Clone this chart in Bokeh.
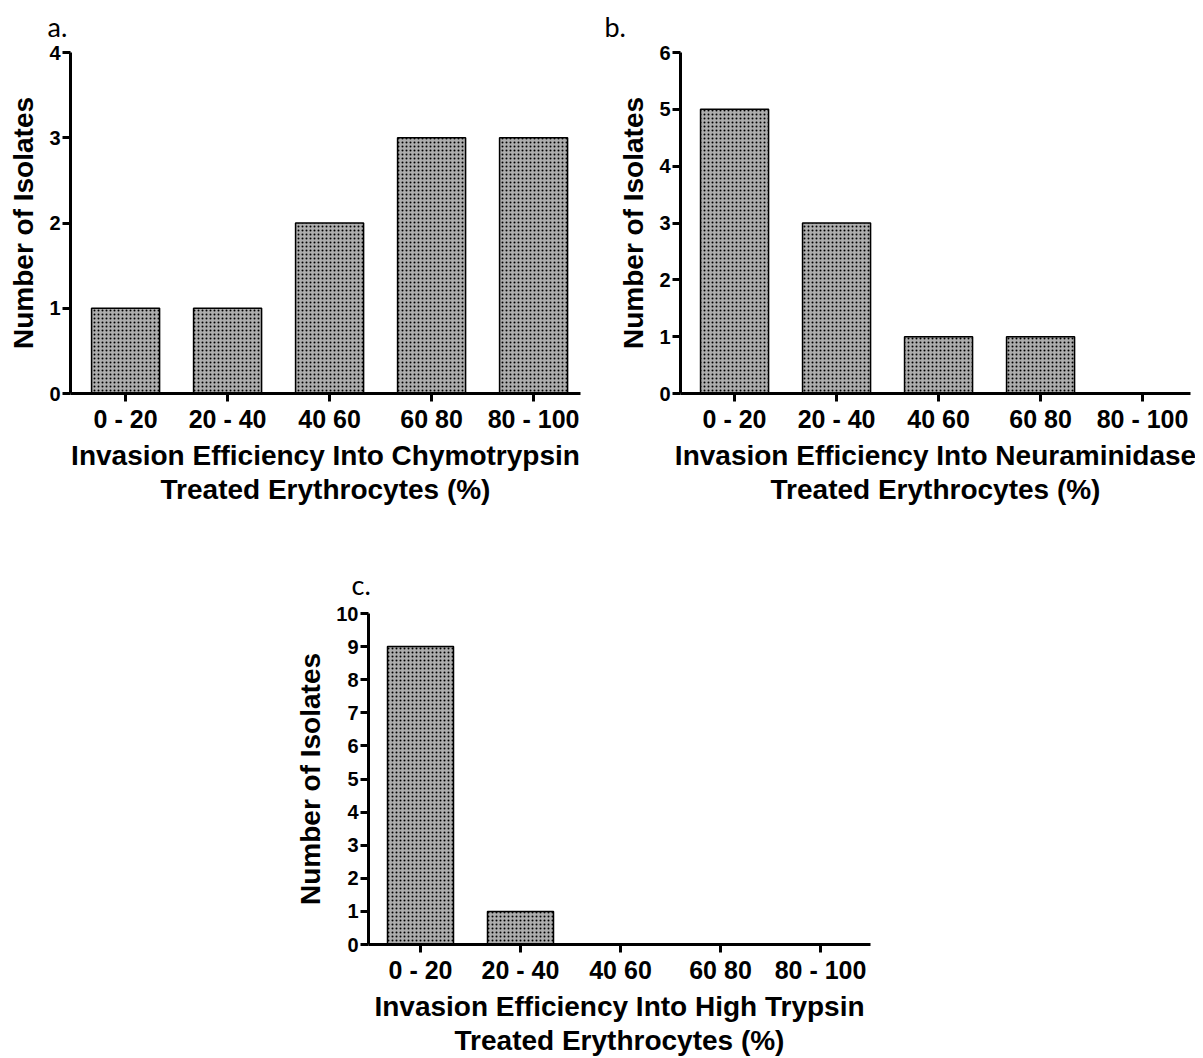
from bokeh.plotting import figure
from bokeh.layouts import column, row
from bokeh.models import FixedTicker, Spacer, ColumnDataSource
from bokeh.embed import file_html
from bokeh.resources import INLINE

# ---- data ----
categories = ["0 - 20", "20 - 40", "40 60", "60 80", "80 - 100"]
chymotrypsin_counts = [1, 1, 2, 3, 3]
neuraminidase_counts = [5, 3, 1, 1, 0]
high_trypsin_counts = [9, 1, 0, 0, 0]

panel_letters = ["a.", "b.", "c."]
y_label = "Number of Isolates"
x_label_a = "Invasion Efficiency Into Chymotrypsin\nTreated Erythrocytes (%)"
x_label_b = "Invasion Efficiency Into Neuraminidase\nTreated Erythrocytes (%)"
x_label_c = "Invasion Efficiency Into High Trypsin\nTreated Erythrocytes (%)"

FONT = "Liberation Sans"


def make_panel(letter, counts, ymax, xlabel, width, height, b_left, b_right,
               b_top, b_bottom, x_start, x_end, bar_w, t_offset, t_standoff):
    xs = list(range(len(categories)))
    src = ColumnDataSource(dict(x=xs, top=counts))
    p = figure(width=width, height=height, output_backend="svg",
               toolbar_location=None, x_range=(x_start, x_end),
               y_range=(0, ymax), min_border_left=b_left,
               min_border_right=b_right, min_border_top=b_top,
               min_border_bottom=b_bottom, title=letter)
    p.vbar(x="x", top="top", bottom=0, width=bar_w, source=src,
           fill_color="#adadad", line_color="black", line_width=1.5,
           hatch_pattern="dot", hatch_color="black", hatch_scale=4,
           hatch_weight=3)
    p.title.text_font = "Lato"
    p.title.text_font_style = "normal"
    p.title.text_font_size = "27px"
    p.title.text_color = "black"
    p.title.align = "left"
    p.title.vertical_align = "top"
    p.title.offset = t_offset
    p.title.standoff = t_standoff
    p.outline_line_color = None
    p.xgrid.grid_line_color = None
    p.ygrid.grid_line_color = None
    p.background_fill_color = "white"
    p.border_fill_color = "white"

    p.xaxis.ticker = FixedTicker(ticks=xs)
    p.xaxis.major_label_overrides = {i: c for i, c in enumerate(categories)}
    p.yaxis.ticker = FixedTicker(ticks=list(range(ymax + 1)))
    for ax in (p.xaxis, p.yaxis):
        ax.axis_line_width = 3
        ax.axis_line_color = "black"
        ax.major_tick_line_width = 3
        ax.major_tick_line_color = "black"
        ax.major_tick_out = 8
        ax.major_tick_in = 0
        ax.minor_tick_line_color = None
        ax.major_label_text_font = FONT
        ax.major_label_text_font_style = "bold"
        ax.major_label_text_color = "black"
        ax.axis_label_text_font = FONT
        ax.axis_label_text_font_style = "bold"
        ax.axis_label_text_color = "black"
        ax.axis_label_text_font_size = "28px"
    p.xaxis.major_label_text_font_size = "25px"
    p.yaxis.major_label_text_font_size = "20px"
    p.xaxis.major_label_standoff = 3
    p.yaxis.major_label_standoff = 2
    p.xaxis.axis_label = xlabel
    p.xaxis.axis_label_standoff = 4
    p.xaxis.axis_label_text_line_height = 1.1
    p.yaxis.axis_label = y_label
    p.yaxis.axis_label_standoff = 7
    return p


# panel a: frame x 70..580, y 52..393
pa = make_panel(panel_letters[0], chymotrypsin_counts, 4, x_label_a, 598, 542,
                70, 18, 52, 149, -0.54, 4.46, 0.667, -23, 16)
# panel b: frame x 680..1190, y 52..393
pb = make_panel(panel_letters[1], neuraminidase_counts, 6, x_label_b, 597, 542,
                82, 5, 52, 149, -0.53, 4.47, 0.667, -76, 16)
# panel c: frame x 368..870, y 613..944
pc = make_panel(panel_letters[2], high_trypsin_counts, 10, x_label_c, 608, 516,
                78, 28, 71, 114, -0.52, 4.50, 0.66, -17, 22)

layout = column(row(pa, pb), row(Spacer(width=290, height=516), pc))

open("out.html", "w").write(file_html(layout, INLINE))
